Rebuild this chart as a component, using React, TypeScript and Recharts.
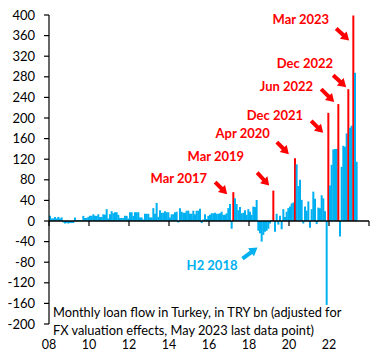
import { Bar, BarChart, Cell, ReferenceDot, ReferenceLine, XAxis, YAxis } from "recharts";

// monthly loan flow, TRY bn
const years = [2008, 2009, 2010, 2011, 2012, 2013, 2014, 2015, 2016, 2017, 2018, 2019, 2020, 2021, 2022, 2023];
const flow2008 = [10, 5, 5, 8, 5, 8, 5, 7, -3, -5, -4, -5];
const flow2009 = [-4, -4, -4, 7, 2, 2, 2, 2, 10, 6, 6, 8];
const flow2010 = [10, 10, 13, 10, 10, 13, 8, 8, 13, 12, 23, 5];
const flow2011 = [13, 19, 15, 17, 17, 12, 6, 6, 6, 10, 10, 5];
const flow2012 = [17, 17, 10, 17, 17, 17, 7, 7, 3, 14, 14, 14];
const flow2013 = [7, 7, 25, 14, 35, 8, 21, 16, 16, 19, 17, 17];
const flow2014 = [7, 13, 13, 17, 18, -3, 25, 18, 16, 16, 20, 20];
const flow2015 = [14, 14, 20, 13, 20, 20, 24, -4, 3, 13, 4, 10];
const flow2016 = [12, 15, 15, 16, 14, 14, 15, 18, 12, 12, 15, 25];
const flow2017 = [33, -15, 56, 44, 33, 21, 27, 15, 16, 21, 12, 23];
const flow2018 = [18, 12, 28, 27, 41, -19, -24, -40, -27, -21, -19, -15];
const flow2019 = [-5, 2, 59, -21, 14, -7, 10, -16, 23, 8, 18, 25];
const flow2020 = [28, 34, 36, 122, 110, 68, 80, 41, -5, 28, 20, 38];
const flow2021 = [-13, 23, 57, 43, -6, 26, 25, 50, 44, 19, -163, 210];
const flow2022 = [69, 109, 139, 140, 140, 227, -30, 105, 146, 144, 170, 256];
const flow2023 = [181, 185, 399, 288, 115];

const flowsByYear = [
  flow2008, flow2009, flow2010, flow2011, flow2012, flow2013, flow2014, flow2015,
  flow2016, flow2017, flow2018, flow2019, flow2020, flow2021, flow2022, flow2023,
];

const highlightMonths = ["2017-03", "2019-03", "2020-04", "2021-12", "2022-06", "2022-12", "2023-03"];
const highlightLabels = ["Mar 2017", "Mar 2019", "Apr 2020", "Dec 2021", "Jun 2022", "Dec 2022", "Mar 2023"];
const troughMonth = "2018-08";
const troughLabel = "H2 2018";

const xTickMonths = ["2008-01", "2010-01", "2012-01", "2014-01", "2016-01", "2018-01", "2020-01", "2022-01", "2023-12"];
const yTicks = [-200, -160, -120, -80, -40, 0, 40, 80, 120, 160, 200, 240, 280, 320, 360, 400];
const captionLines = [
  "Monthly loan flow in Turkey, in TRY bn (adjusted for",
  "FX valuation effects, May 2023  last data point)",
];

const data = years.flatMap((y, yi) =>
  Array.from({ length: 12 }, (_, m) => {
    const v = flowsByYear[yi][m];
    return { month: `${y}-${String(m + 1).padStart(2, "0")}`, flow: v === undefined ? null : v };
  })
);
const valueOf = (month: string) => data.find((d) => d.month === month)?.flow ?? 0;

// layout
const W = 385;
const H = 360;
const TOP = 15;
const LEFT = 49;
const RIGHT = 16;
const XAXIS_H = 36;
const PLOT_W = W - LEFT - RIGHT;
const PLOT_H = H - TOP - XAXIS_H;
const SLOT = PLOT_W / data.length;
const ZERO_Y = TOP + (PLOT_H * 400) / 600;
const FONT = "Lato, sans-serif";
const BLUE = "#00B0F0";
const RED = "#FF0000";

// arrow / label offsets from the top of each highlighted bar
const annotOffsets = [
  { sx: -18, sy: -10, ex: -6, ey: 2, tx: -26, ty: -14 },
  { sx: -16, sy: -18, ex: -4, ey: -5, tx: -29, ty: -35 },
  { sx: -18, sy: -16, ex: -6, ey: -4, tx: -25, ty: -25 },
  { sx: -17, sy: 8, ex: -5, ey: 20, tx: -25, ty: 2 },
  { sx: -17, sy: -15, ex: -4, ey: -2, tx: -25, ty: -18 },
  { sx: -15, sy: -14, ex: -2, ey: -2, tx: -15, ty: -26 },
  { sx: -17, sy: 13, ex: -4, ey: 25, tx: -24, ty: 3 },
];
const troughOffset = { sx: -19, sy: 17, ex: -4, ey: 6, tx: -24, ty: 23 };

function arrowPoints(x1: number, y1: number, x2: number, y2: number) {
  const dx = x2 - x1;
  const dy = y2 - y1;
  const len = Math.hypot(dx, dy);
  const ux = dx / len;
  const uy = dy / len;
  const nx = -uy;
  const ny = ux;
  const shaft = 2;
  const head = 5;
  const headLen = 8;
  const bx = x2 - ux * headLen;
  const by = y2 - uy * headLen;
  const pts = [
    [x1 + nx * shaft, y1 + ny * shaft],
    [bx + nx * shaft, by + ny * shaft],
    [bx + nx * head, by + ny * head],
    [x2, y2],
    [bx - nx * head, by - ny * head],
    [bx - nx * shaft, by - ny * shaft],
    [x1 - nx * shaft, y1 - ny * shaft],
  ];
  return pts.map((p) => p.join(",")).join(" ");
}

function Annotation(props: any) {
  const { cx, cy, label, off, color } = props;
  if (cx == null || cy == null) return null;
  return (
    <g>
      <polygon points={arrowPoints(cx + off.sx, cy + off.sy, cx + off.ex, cy + off.ey)} fill={color} />
      <text
        x={cx + off.tx}
        y={cy + off.ty}
        textAnchor="end"
        dominantBaseline="central"
        fill={color}
        fontFamily={FONT}
        fontSize={13}
        fontWeight={700}
      >
        {label}
      </text>
    </g>
  );
}

function MonthTick(props: any) {
  const { x, payload } = props;
  const key = payload.value as string;
  const last = key === xTickMonths[xTickMonths.length - 1];
  const tx = last ? x + SLOT / 2 : x - SLOT / 2;
  return (
    <g>
      <line x1={tx} x2={tx} y1={ZERO_Y} y2={ZERO_Y + 5} stroke="#000" strokeWidth={1.2} />
      {!last && (
        <text x={tx} y={H - 16} textAnchor="middle" dominantBaseline="central" fill="#000" fontFamily={FONT} fontSize={12.5}>
          {key.slice(2, 4)}
        </text>
      )}
    </g>
  );
}

export default function App() {
  return (
    <div style={{ position: "absolute", left: 0, top: 0, width: W, height: H, background: "#fff" }}>
      <BarChart
        width={W}
        height={H}
        data={data}
        margin={{ top: TOP, right: RIGHT, bottom: 0, left: 0 }}
        barCategoryGap={0}
      >
        <XAxis
          dataKey="month"
          type="category"
          ticks={xTickMonths}
          interval={0}
          height={XAXIS_H}
          axisLine={false}
          tickLine={false}
          tick={<MonthTick />}
        />
        <YAxis
          domain={[-200, 400]}
          ticks={yTicks}
          interval={0}
          width={LEFT}
          tickSize={5}
          tickMargin={9}
          axisLine={{ stroke: "#000", strokeWidth: 1.2 }}
          tickLine={{ stroke: "#000", strokeWidth: 1.2 }}
          tick={{ fill: "#000", fontSize: 13, fontFamily: FONT }}
        />
        <Bar dataKey="flow" isAnimationActive={false}>
          {data.map((d) => (
            <Cell key={d.month} fill={highlightMonths.includes(d.month) ? RED : BLUE} />
          ))}
        </Bar>
        <ReferenceLine y={0} stroke="#000" strokeWidth={1.3} />
        {highlightMonths.map((m, i) => (
          <ReferenceDot
            key={m}
            x={m}
            y={valueOf(m)}
            r={0}
            ifOverflow="visible"
            shape={(p: any) => <Annotation {...p} label={highlightLabels[i]} off={annotOffsets[i]} color={RED} />}
          />
        ))}
        <ReferenceDot
          x={troughMonth}
          y={valueOf(troughMonth)}
          r={0}
          ifOverflow="visible"
          shape={(p: any) => <Annotation {...p} label={troughLabel} off={troughOffset} color={BLUE} />}
        />
        {captionLines.map((line, i) => (
          <text key={i} x={53} y={312 + i * 17.5} dominantBaseline="central" fill="#000" fontFamily={FONT} fontSize={12.8}>
            {line}
          </text>
        ))}
      </BarChart>
    </div>
  );
}
